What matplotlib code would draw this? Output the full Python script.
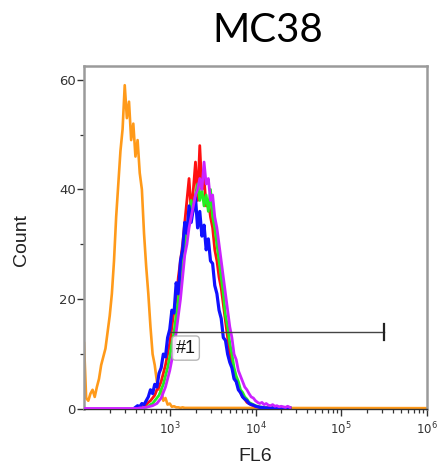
import numpy as np
import matplotlib.pyplot as plt
from matplotlib.ticker import LogLocator, NullFormatter, FixedLocator

# histogram channels (log10 of FL6) and counts
bins_orange = np.r_[np.arange(2.0, 3.2001, 0.025), 6.0]
cnt_orange = [12, 2, 1.5, 2.8, 3.5, 2.2, 4, 5.5, 8, 9.5,
              11, 14, 17, 21, 27, 35, 41, 47, 51, 59,
              53, 56, 49, 52, 46, 49, 43, 40, 32, 26,
              21, 15, 10, 8, 5, 3.5, 3.5, 1.5, 2, 0.8,
              1, 0.4, 0.5, 0.3, 0.3, 0.2, 0.3, 0.2, 0.2, 0.15]

bins_cluster = np.arange(2.6, 4.4001, 0.025)
cnt_blue = [0.3, 0.6, 0.4, 1.0, 0.8, 1.5, 2.2, 3.5, 2.8, 4.5,
            4.0, 6.5, 7.5, 10.0, 9.5, 13.0, 14.5, 18.0, 17.5, 23.0,
            21.0, 27.0, 29.0, 34.0, 32.0, 37.0, 34.0, 36.5, 38.5, 33.0,
            36.0, 31.5, 33.5, 29.0, 31.0, 27.0, 26.5, 22.5, 21.0, 18.0,
            16.5, 13.0, 12.5, 10.0, 8.5, 7.5, 5.5, 5.0, 3.5, 3.0,
            2.2, 1.8, 1.5, 1.0, 0.8, 0.7, 0.5, 0.4, 0.3, 0.3,
            0.2, 0.2, 0.2, 0.2, 0.2, 0.2, 0.2, 0.2, 0.2, 0.2,
            0.2, 0.2, 0.2]
cnt_red = [0.1, 0.2, 0.3, 0.4, 0.5, 0.8, 1.2, 1.5, 2.0, 2.5,
           3.5, 4.0, 5.0, 6.5, 8.0, 10.0, 12.0, 15.0, 18.0, 20.0,
           24.0, 27.0, 30.0, 34.0, 38.0, 42.0, 36.0, 40.0, 45.0, 38.0,
           48.0, 40.0, 42.0, 37.0, 38.0, 35.0, 33.0, 29.0, 27.0, 24.0,
           22.0, 19.0, 16.0, 13.0, 10.0, 8.0, 6.5, 5.0, 4.0, 3.0,
           2.2, 1.8, 1.2, 1.0, 0.8, 0.6, 0.5, 0.4, 0.3, 0.2,
           0.2, 0.2, 0.2, 0.2, 0.2, 0.2, 0.2, 0.2, 0.2, 0.2,
           0.2, 0.2, 0.2]
cnt_green = [0.1, 0.1, 0.1, 0.2, 0.2, 0.3, 0.5, 0.8, 1.0, 1.5,
             2.0, 2.5, 3.5, 4.5, 6.0, 7.5, 9.5, 12.0, 14.0, 17.0,
             20.0, 23.0, 27.0, 30.0, 33.0, 35.0, 38.0, 36.0, 39.0, 41.0,
             38.0, 40.0, 37.0, 39.0, 36.0, 40.0, 35.0, 33.0, 30.0, 27.0,
             24.0, 21.0, 17.0, 15.0, 12.0, 10.0, 7.5, 6.0, 5.0, 3.5,
             3.0, 2.2, 1.8, 1.2, 1.0, 0.8, 0.6, 0.5, 0.4, 0.3,
             0.3, 0.2, 0.2, 0.2, 0.3, 0.2, 0.2, 0.2, 0.2, 0.2,
             0.2, 0.2, 0.2]
magenta_lead = (2.0, 0.1)
cnt_magenta = [0.1, 0.1, 0.2, 0.2, 0.3, 0.3, 0.4, 0.5, 0.6, 0.8,
               1.0, 1.5, 2.0, 3.0, 4.0, 5.5, 7.0, 9.0, 11.0, 14.0,
               17.0, 20.0, 24.0, 28.0, 30.0, 33.0, 35.0, 37.0, 39.0, 40.0,
               42.0, 40.0, 45.0, 41.0, 42.0, 38.0, 39.0, 35.0, 33.0, 30.0,
               27.0, 24.0, 21.0, 18.0, 15.0, 13.0, 10.0, 9.0, 7.0, 6.0,
               5.0, 4.0, 3.5, 2.8, 2.2, 2.0, 1.5, 1.2, 1.0, 1.2,
               0.8, 1.0, 0.7, 0.6, 0.8, 0.5, 0.6, 0.4, 0.5, 0.4,
               0.3, 0.5, 0.3]

gate_start, gate_end, gate_level = 1e3, 10**5.5, 14
gate_label = "#1"
xtick_vals = [1e3, 1e4, 1e5, 1e6]
xtick_labels = ["$10^{3}$", "$10^{4}$", "$10^{5}$", "$10^{6}$"]

fig = plt.figure(figsize=(4.37, 4.70), dpi=100)
ax = fig.add_axes([84 / 437, 61 / 470, 343 / 437, 343 / 470])

ax.plot(10 ** bins_orange, cnt_orange, color="#ff9a1a", lw=1.9, zorder=2)
ax.plot(10 ** bins_cluster, cnt_red, color="#ff1010", lw=2.0, zorder=3)
ax.plot(10 ** bins_cluster, cnt_green, color="#22ee22", lw=2.0, zorder=3)
ax.plot(10 ** bins_cluster, cnt_blue, color="#1010ff", lw=2.3, zorder=4)
ax.plot(10 ** np.r_[magenta_lead[0], bins_cluster], np.r_[magenta_lead[1], cnt_magenta],
        color="#cc22ff", lw=2.0, zorder=5)

# gate marker
ax.plot([gate_start, gate_end], [gate_level, gate_level], color="#444444", lw=1.0, zorder=6)
ax.plot([gate_end, gate_end], [gate_level - 1.4, gate_level + 1.4], color="#222222", lw=1.6, zorder=6)
ax.text(10 ** 3.07, 11.1, gate_label, fontsize=13, va="center", ha="left",
        family="Liberation Sans", color="#111111", zorder=7,
        bbox=dict(boxstyle="round,pad=0.2", fc="white", ec="#aaaaaa", lw=1.0, alpha=0.85))

ax.set_xscale("log")
ax.set_xlim(1e2, 1e6)
ax.set_ylim(0, 62.5)
ax.xaxis.set_major_locator(FixedLocator(xtick_vals))
ax.set_xticklabels(xtick_labels)
ax.xaxis.set_minor_locator(LogLocator(base=10, subs=np.arange(2, 10)))
ax.xaxis.set_minor_formatter(NullFormatter())
ax.set_yticks([0, 20, 40, 60])
ax.set_yticks([10, 30, 50], minor=True)

for side in ["top", "right", "left"]:
    ax.spines[side].set_color("#9a9a9a")
    ax.spines[side].set_linewidth(1.8)
ax.spines["bottom"].set_color("#333333")
ax.spines["bottom"].set_linewidth(1.0)

ax.tick_params(axis="both", which="major", length=5, width=1.0, color="#333333",
               labelcolor="#333333")
ax.tick_params(axis="x", which="major", labelsize=8.5)
ax.tick_params(axis="y", which="major", labelsize=9.5, pad=1)
ax.tick_params(axis="both", which="minor", length=3, width=0.9, color="#333333")

fig.text(0.613, 0.936, "MC38", fontsize=29, family="Lato", ha="center", va="center")
fig.text(0.05, 0.49, "Count", fontsize=14, family="Liberation Sans", rotation=90,
         ha="center", va="center", color="#222222")
fig.text(0.584, 0.028, "FL6", fontsize=14, family="Liberation Sans",
         ha="center", va="center", color="#222222")

fig.savefig("out.png", dpi=100)
